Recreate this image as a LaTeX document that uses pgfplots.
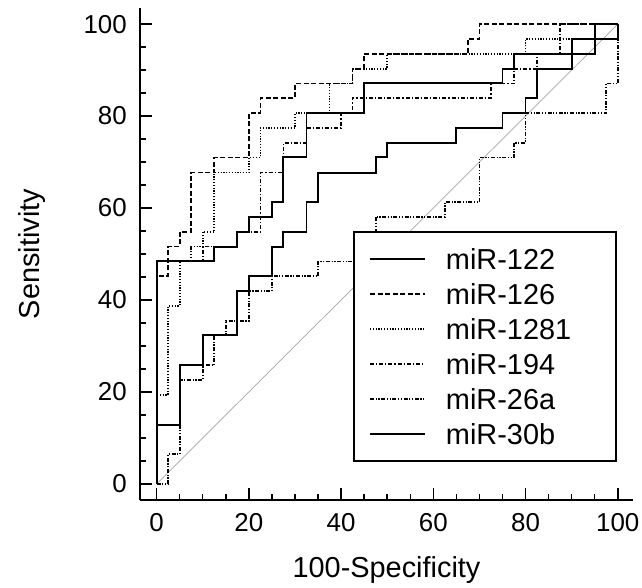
\documentclass[border=0pt]{standalone}
\usepackage{fontspec}
\setmainfont{Liberation Sans}
\usepackage{pgfplots}
\pgfplotsset{compat=1.18}

\begin{document}
\begin{tikzpicture}
\begin{axis}[
    name=ax,
    at={(0,0)}, anchor=south west,
    width=493bp, height=492bp, scale only axis,
    xmin=-3.6, xmax=103.3, ymin=-3.5, ymax=103.5,
    axis lines=left,
    axis line style={line width=2bp, -},
    xtick={0,20,...,100}, ytick={0,20,...,100},
    minor tick num=3,
    tick align=inside,
    major tick length=12bp, minor tick length=6bp,
    every tick/.style={black, line width=1.5bp},
    /pgf/number format/assume math mode=true,
    tick label style={font=\fontsize{26}{30}\selectfont, inner sep=0bp},
    xticklabel style={yshift=-13bp},
    yticklabel style={xshift=-13bp},
    every axis x label/.style={at={(axis description cs:0.5,-0.1138)}, anchor=north, inner sep=0pt, font=\fontsize{29}{34}\selectfont},
    every axis y label/.style={at={(axis description cs:-0.1907,0.5)}, rotate=90, anchor=south, inner sep=0pt, font=\fontsize{29}{34}\selectfont},
    xlabel={100-Specificity},
    ylabel={Sensitivity},
    no markers,
    legend image code/.code={\draw[#1] (0bp,0bp) -- (55bp,0bp);},
    legend cell align=left,
    legend style={at={(0.9675,0.0772)}, anchor=south east,
        draw=black, line width=2bp, fill=white,
        inner xsep=15bp, inner ysep=9.5bp, row sep=0bp,
        font=\fontsize{29}{34}\selectfont,
        nodes={inner sep=0bp, text height=27.5bp, text depth=7.5bp},
        /tikz/every odd column/.append style={column sep=20bp}},
]
% chance line
\addplot[gray!70, line width=0.7bp, forget plot] coordinates {(0,0) (100,100)};

\addplot[black, line width=1.9bp, solid] coordinates {
(0,0)(0,48.4)(12.5,48.4)(12.5,51.6)(17.5,51.6)(17.5,54.8)(20,54.8)(20,58.1)(25,58.1)(25,61.3)(27.5,61.3)(27.5,71.0)(32.5,71.0)(32.5,80.6)(45,80.6)(45,87.1)(75,87.1)(75,90.3)(77.5,90.3)(77.5,93.5)(95,93.5)(95,100)(100,100)};
\addlegendentry{\makebox[155bp][l]{miR-122}}

\addplot[black, line width=1.7bp, dash pattern=on 5bp off 2.5bp] coordinates {
(0,0)(0,45.2)(2.5,45.2)(2.5,51.6)(5,51.6)(5,54.8)(7.5,54.8)(7.5,67.7)(12.5,67.7)(12.5,71.0)(20,71.0)(20,80.6)(22.5,80.6)(22.5,83.9)(30,83.9)(30,87.1)(42.5,87.1)(42.5,90.3)(45,90.3)(45,93.5)(67.5,93.5)(67.5,96.8)(70,96.8)(70,100)(100,100)};
\addlegendentry{\makebox[155bp][l]{miR-126}}

\addplot[black, line width=1.7bp, dash pattern=on 1.2bp off 1.6bp] coordinates {
(0,0)(0,19.4)(2.5,19.4)(2.5,38.7)(5,38.7)(5,48.4)(7.5,48.4)(7.5,51.6)(10,51.6)(10,54.8)(12.5,54.8)(12.5,67.7)(20,67.7)(20,71.0)(22.5,71.0)(22.5,77.4)(30,77.4)(30,80.6)(37.5,80.6)(37.5,87.1)(42.5,87.1)(42.5,90.3)(50,90.3)(50,93.5)(80,93.5)(80,96.8)(95,96.8)(95,100)(100,100)};
\addlegendentry{\makebox[155bp][l]{miR-1281}}

\addplot[black, line width=1.7bp, dash pattern=on 4bp off 2bp on 1.2bp off 2bp] coordinates {
(0,0)(0,48.4)(10,48.4)(10,51.6)(17.5,51.6)(17.5,54.8)(22.5,54.8)(22.5,67.7)(27.5,67.7)(27.5,74.2)(32.5,74.2)(32.5,77.4)(40,77.4)(40,80.6)(42.5,80.6)(42.5,83.9)(72.5,83.9)(72.5,87.1)(77.5,87.1)(77.5,90.3)(82.5,90.3)(82.5,93.5)(87.5,93.5)(87.5,100)(100,100)};
\addlegendentry{\makebox[155bp][l]{miR-194}}

\addplot[black, line width=1.7bp, dash pattern=on 4bp off 1.6bp on 1.2bp off 1.6bp on 1.2bp off 1.6bp] coordinates {
(0,0)(2.5,0)(2.5,6.5)(5,6.5)(5,22.6)(10,22.6)(10,25.8)(12.5,25.8)(12.5,32.3)(15,32.3)(15,35.5)(20,35.5)(20,41.9)(25,41.9)(25,45.2)(35,45.2)(35,48.4)(45,48.4)(45,51.6)(47.5,51.6)(47.5,58.1)(62.5,58.1)(62.5,61.3)(70,61.3)(70,71.0)(77.5,71.0)(77.5,74.2)(80,74.2)(80,80.6)(97.5,80.6)(97.5,87.1)(100,87.1)(100,100)};
\addlegendentry{\makebox[155bp][l]{miR-26a}}

\addplot[black, line width=1.9bp, solid] coordinates {
(0,0)(0,12.9)(5,12.9)(5,25.8)(10,25.8)(10,32.3)(17.5,32.3)(17.5,41.9)(20,41.9)(20,45.2)(25,45.2)(25,51.6)(27.5,51.6)(27.5,54.8)(32.5,54.8)(32.5,61.3)(35,61.3)(35,67.7)(47.5,67.7)(47.5,71.0)(50,71.0)(50,74.2)(65,74.2)(65,77.4)(75,77.4)(75,80.6)(80,80.6)(80,83.9)(82.5,83.9)(82.5,90.3)(90,90.3)(90,96.8)(100,96.8)(100,100)};
\addlegendentry{\makebox[155bp][l]{miR-30b}}
\end{axis}
\pgfresetboundingbox
\path ([xshift=-140bp,yshift=-88bp]ax.south west) rectangle ([xshift=9bp,yshift=8bp]ax.north east);
\end{tikzpicture}
\end{document}
